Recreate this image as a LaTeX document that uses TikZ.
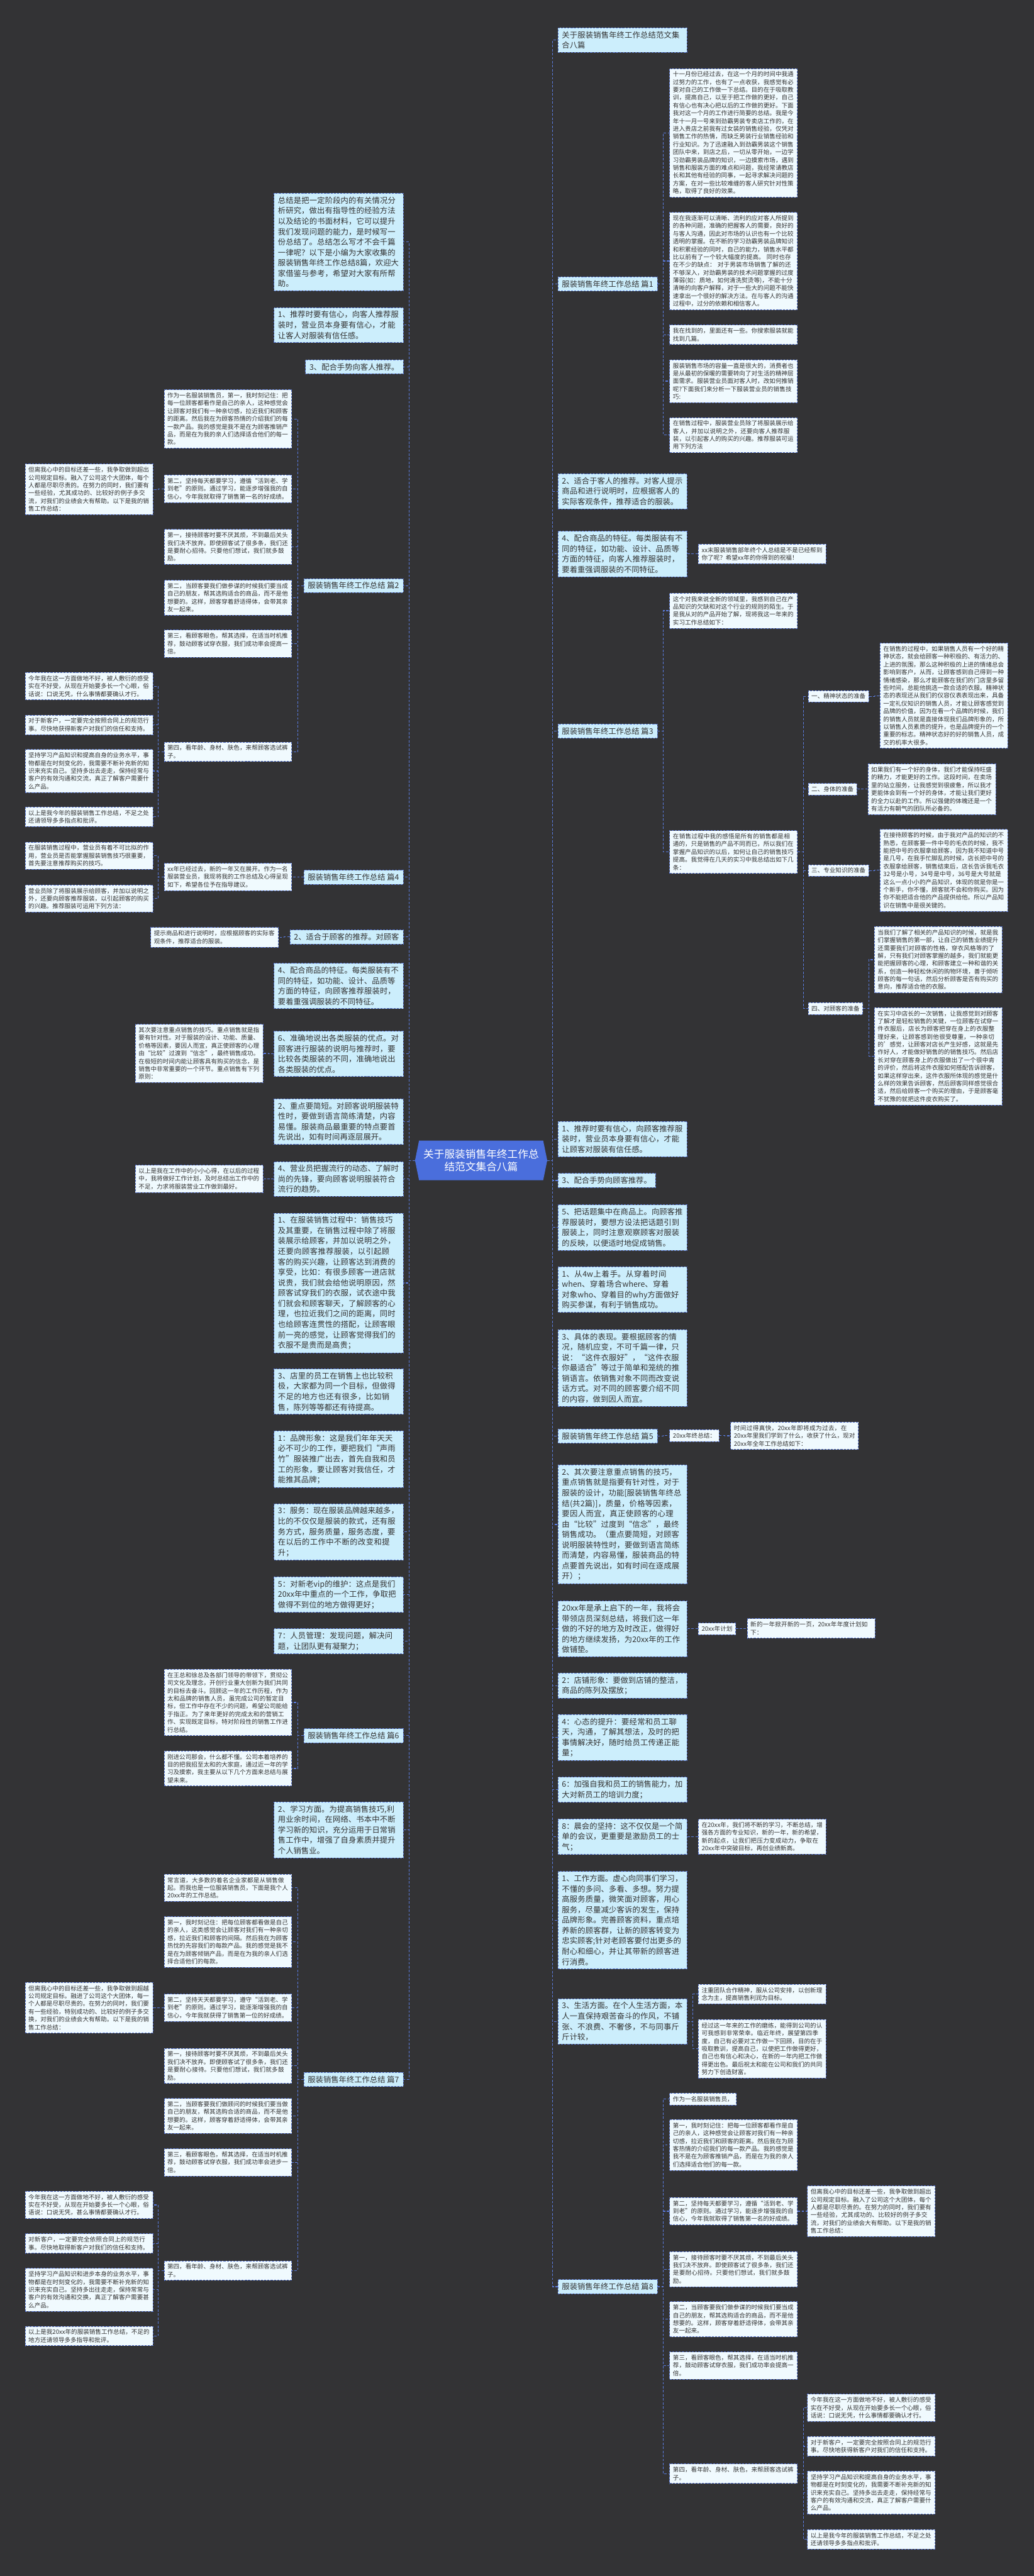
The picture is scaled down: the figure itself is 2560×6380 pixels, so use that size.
\documentclass[tikz,border=0pt]{standalone}
\usepackage{fontspec}
\setmainfont{Noto Sans CJK SC}
\XeTeXlinebreaklocale "zh"
\XeTeXlinebreakskip=0pt plus 1pt
\usetikzlibrary{calc}
\definecolor{bgc}{HTML}{333335}
\definecolor{bigfill}{HTML}{CCEEFC}
\definecolor{leaffill}{HTML}{F0FAFE}
\definecolor{bordc}{HTML}{5573CF}
\definecolor{connc}{HTML}{5A7BDC}
\definecolor{cblue}{HTML}{4A6EDC}
\definecolor{txt}{HTML}{333333}
\newcommand\bigf{\fontsize{19.2pt}{25.8pt}\selectfont}
\newcommand\leaff{\fontsize{14.9pt}{19.3pt}\selectfont}
\newcommand\cenf{\fontsize{26pt}{32pt}\selectfont}
\newcommand\rconn[2]{\draw[conn] (#1.east) -- ++(14,0) |- (#2.west);}
\newcommand\lconn[2]{\draw[conn] (#1.west) -- ++(-14,0) |- (#2.east);}
\pgfdeclarelayer{back}
\pgfdeclarelayer{bg}
\pgfsetlayers{back,bg,main}
\tikzset{
  big/.style={draw=bordc, line width=1.2pt, dash pattern=on 5pt off 3pt, fill=bigfill, text=txt, font=\bigf, inner xsep=10pt, inner ysep=8.5pt, align=left},
  bigw/.style={big, text width=300pt},
  leaf/.style={draw=bordc, line width=1.2pt, dash pattern=on 5pt off 3pt, fill=leaffill, text=txt, font=\leaff, inner xsep=8pt, inner ysep=7.5pt, align=left},
  leafw/.style={leaf, text width=300pt},
  conn/.style={draw=connc, line width=1.8pt, dash pattern=on 6pt off 4pt},
  ctext/.style={text=white, font=\cenf, align=center, minimum width=327pt, minimum height=98pt, inner sep=0pt}
}
\begin{document}
\begin{tikzpicture}[x=1pt,y=1pt]
\useasboundingbox (0,0) rectangle (2560,-6380);
\begin{pgfonlayer}{back}
\fill[bgc] (0,0) rectangle (2560,-6380);
\end{pgfonlayer}

% center
\node[ctext] (C) at (1191.5,-2874) {关于服装销售年终工作总\\结范文集合八篇};
\begin{pgfonlayer}{bg}
\fill[cblue] ([xshift=10pt]C.north west) -- ([xshift=-10pt]C.north east) -- (C.east) -- ([xshift=-10pt]C.south east) -- ([xshift=10pt]C.south west) -- (C.west) -- cycle;
\end{pgfonlayer}

% ================= RIGHT SIDE =================
\node[bigw, anchor=west] (r1) at (1381,-99.5) {关于服装销售年终工作总结范文集合八篇};
\node[big, anchor=west] (r2) at (1381,-703.5) {服装销售年终工作总结 篇1};
\node[leafw, anchor=west] (r2a) at (1658,-329) {十一月份已经过去，在这一个月的时间中我通过努力的工作，也有了一点收获，我感觉有必要对自己的工作做一下总结。目的在于吸取教训，提高自己，以至于把工作做的更好，自己有信心也有决心把以后的工作做的更好。下面我对这一个月的工作进行简要的总结。我是今年十一月一号来到劲霸男装专卖店工作的，在进入贵店之前我有过女装的销售经验，仅凭对销售工作的热情，而缺乏男装行业销售经验和行业知识。为了迅速融入到劲霸男装这个销售团队中来，到店之后，一切从零开始，一边学习劲霸男装品牌的知识，一边摸索市场，遇到销售和服装方面的难点和问题，我经常请教店长和其他有经验的同事，一起寻求解决问题的方案，在对一些比较难缠的客人研究针对性策略，取得了良好的效果。};
\node[leafw, anchor=west] (r2b) at (1658,-646.5) {现在我逐渐可以清晰、流利的应对客人所提到的各种问题，准确的把握客人的需要，良好的与客人沟通，因此对市场的认识也有一个比较透明的掌握。在不断的学习劲霸男装品牌知识和积累经验的同时，自己的能力，销售水平都比以前有了一个较大幅度的提高。 同时也存在不少的缺点： 对于男装市场销售了解的还不够深入，对劲霸男装的技术问题掌握的过度薄弱(如：质地，如何清洗熨烫等)，不能十分清晰的向客户解释，对于一些大的问题不能快速拿出一个很好的解决方法。在与客人的沟通过程中，过分的依赖和相信客人。};
\node[leafw, anchor=west] (r2c) at (1658,-829) {我在找到的，里面还有一些。你搜索服装就能找到几篇。};
\node[leafw, anchor=west] (r2d) at (1658,-944) {服装销售市场的容量一直是很大的，消费者也是从最初的保暖的需要转向了对生活的精神层面需求。服装营业员面对客人时，改如何推销呢?下面我们来分析一下服装营业员的销售技巧:};
\node[leafw, anchor=west] (r2e) at (1658,-1077.5) {在销售过程中，服装营业员除了将服装展示给客人，并加以说明之外，还要向客人推荐服装，以引起客人的购买的兴趣。推荐服装可运用下列方法};
\node[bigw, anchor=west] (r3) at (1381,-1217) {2、适合于客人的推荐。对客人提示商品和进行说明时，应根据客人的实际客观条件，推荐适合的服装。};
\node[bigw, anchor=west] (r4) at (1381,-1372) {4、配合商品的特征。每类服装有不同的特征，如功能、设计、品质等方面的特征，向客人推荐服装时，要着重强调服装的不同特征。};
\node[leafw, anchor=west] (r4a) at (1729,-1372) {xx末服装销售部年终个人总结是不是已经帮到你了呢？希望xx年的你得到的祝福！};
\node[big, anchor=west] (r5) at (1381,-1811) {服装销售年终工作总结 篇3};
\node[leafw, anchor=west] (r5a) at (1658,-1512.5) {这个对我来说全新的领域里，我感到自己在产品知识的欠缺和对这个行业的规则的陌生。于是我从对的产品开始了解，现将我这一年来的实习工作总结如下：};
\node[leafw, anchor=west] (r5b) at (1658,-2110) {在销售过程中我的感悟是所有的销售都是相通的，只是销售的产品不同而已，所以我们在掌握产品知识的以后，如何让自己的销售技巧提高。我觉得在几天的实习中我总结出如下几条：};
\node[leaf, anchor=west] (b1) at (2001,-1724.5) {一、精神状态的准备};
\node[leafw, anchor=west] (b1a) at (2179,-1723) {在销售的过程中，如果销售人员有一个好的精神状态，就会给顾客一种积极的、有活力的、上进的氛围，那么这种积极的上进的情绪总会影响到客户，从而，让顾客感到自己得到一种情绪感染，那么才能顾客在我们的门店里多留些时间，总能他挑选一款合适的衣服。精神状态的表现还从我们的仪容仪表表现出来，具备一定礼仪知识的销售人员，才能让顾客感觉到品牌的价值，因为在看一个品牌的时候，我们的销售人员就是直接体现我们品牌形象的，所以销售人员素质的提升，也是品牌提升的一个重要的标志。精神状态好的好的销售人员，成交的机率大很多。};
\node[leaf, anchor=west] (b2) at (2001,-1954.5) {二、身体的准备};
\node[leafw, anchor=west] (b2a) at (2149,-1954.5) {如果我们有一个好的身体，我们才能保持旺盛的精力，才能更好的工作。这段时间，在卖场里的站立服务，让我感觉到很疲惫，所以我才更能体会到有一个好的身体，才能让我们更好的全力以赴的工作。所以强健的体魄还是一个有活力有朝气的团队所必备的。};
\node[leaf, anchor=west] (b3) at (2001,-2156) {三、专业知识的准备};
\node[leafw, anchor=west] (b3a) at (2179,-2155.5) {在接待顾客的时候，由于我对产品的知识的不熟悉，在顾客要一件中号的毛衣的时候，我不能把中号的衣服拿给顾客，因为我不知道中号是几号，在我手忙脚乱的时候，店长把中号的衣服拿给顾客，销售结束后，店长告诉我毛衣32号是小号，34号是中号，36号是大号就是这么一点小小的产品知识，体现的就是你是一个新手，你不懂，顾客就不会和你购买。因为你不能把适合他的产品提供给他。所以产品知识在销售中是很关键的。};
\node[leaf, anchor=west] (b4) at (2001,-2498) {四、对顾客的准备};
\node[leafw, anchor=west] (b4a) at (2165,-2377) {当我们了解了相关的产品知识的时候，就是我们掌握销售的第一部，让自己的销售业绩提升还需要我们对顾客的性格，穿衣风格等的了解，只有我们对顾客掌握的越多，我们就能更能把握顾客的心理，和顾客建立一种和谐的关系，创造一种轻松休闲的购物环境，善于倾听顾客的每一句话，然后分析顾客是否有购买的意向，推荐适合他的衣服。};
\node[leafw, anchor=west] (b4b) at (2165,-2616) {在实习中店长的一次销售，让我感觉到对顾客了解才是轻松销售的关键，一位顾客在试穿一件衣服后，店长为顾客把穿在身上的衣服整理好来，让顾客感到他很受尊重，一种亲切的'感觉，让顾客对店长产生好感，这就是先作好人，才能做好销售的的销售技巧。然后店长对穿在顾客身上的衣服做出了一个很中肯的评价，然后将这件衣服如何搭配告诉顾客，如果这样穿出来，这件衣服所体现的感觉是什么样的效果告诉顾客，然后顾客同样感觉很合适，然后给顾客一个购买的理由，于是顾客毫不犹豫的就把这件皮衣购买了。};
\node[bigw, anchor=west] (r6) at (1381,-2821) {1、推荐时要有信心，向顾客推荐服装时，营业员本身要有信心，才能让顾客对服装有信任感。};
\node[big, anchor=west] (r7) at (1381,-2923.5) {3、配合手势向顾客推荐。};
\node[bigw, anchor=west] (r8) at (1381,-3040) {5、把话题集中在商品上。向顾客推荐服装时，要想方设法把话题引到服装上，同时注意观察顾客对服装的反映，以便适时地促成销售。};
\node[bigw, anchor=west] (r9) at (1381,-3194) {1、从4w上着手。从穿着时间when、穿着场合where、穿着对象who、穿着目的why方面做好购买参谋，有利于销售成功。};
\node[bigw, anchor=west] (r10) at (1381,-3388) {3、具体的表现。要根据顾客的情况，随机应变，不可千篇一律，只说：“这件衣服好”，“这件衣服你最适合”等过于简单和笼统的推销语言。依销售对象不同而改变说话方式。对不同的顾客要介绍不同的内容，做到因人而宜。};
\node[big, anchor=west] (r11) at (1381,-3557) {服装销售年终工作总结 篇5};
\node[leaf, anchor=west] (r11a) at (1658,-3555.5) {20xx年终总结：};
\node[leafw, anchor=west] (r11b) at (1809,-3556) {时间过得真快，20xx年即将成为过去，在20xx年里我们学到了什么，收获了什么，现对20xx年全年工作总结如下：};
\node[bigw, anchor=west] (r12) at (1381,-3775.5) {2、其次要注意重点销售的技巧，重点销售就是指要有针对性，对于服装的设计，功能[服装销售年终总结(共2篇)]，质量，价格等因素，要因人而宜，真正使顾客的心理由“比较”过度到“信念”，最终销售成功。（重点要简短，对顾客说明服装特性时，要做到语言简练而清楚，内容易懂，服装商品的特点要首先说出，如有时间在逐成展开）；};
\node[bigw, anchor=west] (r13) at (1381,-4034) {20xx年是承上启下的一年，我将会带领店员深刻总结，将我们这一年做的不好的地方及时改正，做得好的地方继续发扬，为20xx年的工作做铺垫。};
\node[leaf, anchor=west] (r13a) at (1729,-4034) {20xx年计划};
\node[leafw, anchor=west] (r13b) at (1850,-4033) {新的一年掀开新的一页，20xx年年度计划如下：};
\node[bigw, anchor=west] (r14) at (1381,-4174.5) {2：店铺形象：要做到店铺的整洁，商品的陈列及摆放；};
\node[bigw, anchor=west] (r15) at (1381,-4303.5) {4：心态的提升：要经常和员工聊天，沟通，了解其想法，及时的把事情解决好，随时给员工传递正能量；};
\node[bigw, anchor=west] (r16) at (1381,-4432.5) {6：加强自我和员工的销售能力，加大对新员工的培训力度；};
\node[bigw, anchor=west] (r17) at (1381,-4549) {8：晨会的坚持：这不仅仅是一个简单的会议，更重要是激励员工的士气；};
\node[leafw, anchor=west] (r17a) at (1729,-4549) {在20xx年，我们将不断的学习，不断总结，增强各方面的专业知识，新的一年，新的希望，新的起点，让我们把压力变成动力，争取在20xx年中突破目标，再创业绩新高。};
\node[bigw, anchor=west] (r18) at (1381,-4755.5) {1、工作方面。虚心向同事们学习，不懂的多问、多看、多想。努力提高服务质量，微笑面对顾客，用心服务，尽量减少客诉的发生，保持品牌形象。完善顾客资料，重点培养新的顾客群，让新的顾客转变为忠实顾客;针对老顾客要付出更多的耐心和细心，并让其带新的顾客进行消费。};
\node[bigw, anchor=west] (r19) at (1381,-5006.5) {3、生活方面。在个人生活方面，本人一直保持艰苦奋斗的作风，不铺张、不浪费、不奢侈，不与同事斤斤计较，};
\node[leafw, anchor=west] (r19a) at (1729,-4939) {注重团队合作精神，服从公司安排，以创新理念为主，提高销售利润为目标。};
\node[leafw, anchor=west] (r19b) at (1729,-5074.5) {经过这一年来的工作的磨练，能得到公司的认可我感到非常荣幸。临近年终，展望第四季度，自己有必要对工作做一下回顾，目的在于吸取教训，提高自己，以使把工作做得更好，自己也有信心和决心，在新的一年内把工作做得更出色。最后祝太和能在公司和我们的共同努力下创造财富。};
\node[big, anchor=west] (r20) at (1381,-5663.5) {服装销售年终工作总结 篇8};
\node[leaf, anchor=west] (p1) at (1658,-5199) {作为一名服装销售员，};
\node[leafw, anchor=west] (p2) at (1658,-5312.5) {第一，我时刻记住：把每一位顾客都看作是自己的亲人，这种感觉会让顾客对我们有一种亲切感，拉近我们和顾客的距离。然后我在为顾客热情的介绍我们的每一款产品。我的感觉是我不是在为顾客推销产品，而是在为我的亲人们选择适合他们的每一款。};
\node[leafw, anchor=west] (p3) at (1658,-5476.5) {第二，坚持每天都要学习，遵循“活到老、学到老”的原则。通过学习，能逐步增强我的自信心，今年我就取得了销售第一名的好成绩。};
\node[leafw, anchor=west] (p3a) at (1999,-5476.5) {但离我心中的目标还差一些，我争取做到超出公司规定目标。融入了公司这个大团体，每个人都是尽职尽责的。在努力的同时，我们要有一些经验，尤其成功的、比较好的例子多交流，对我们的业绩会大有帮助。以下是我的销售工作总结：};
\node[leafw, anchor=west] (p4) at (1658,-5620) {第一，接待顾客时要不厌其烦，不到最后关头我们决不放弃。即使顾客试了很多条，我们还是要耐心招待。只要他们想试，我们就多鼓励。};
\node[leafw, anchor=west] (p5) at (1658,-5744) {第二，当顾客要我们做参谋的时候我们要当成自己的朋友，帮其选购适合的商品，而不是他想要的。这样，顾客穿着舒适得体，会带其亲友一起来。};
\node[leafw, anchor=west] (p6) at (1658,-5858.5) {第三，看顾客眼色，帮其选择，在适当时机推荐，鼓动顾客试穿衣服，我们成功率会提高一倍。};
\node[leafw, anchor=west] (p7) at (1658,-6126.5) {第四，看年龄、身材、肤色，来帮顾客选试裤子。};
\node[leafw, anchor=west] (p7a) at (1999,-5963.5) {今年我在这一方面做地不好，被人敷衍的感受实在不好受，从现在开始要多长一个心眼，俗话说：口说无凭，什么事情都要确认才行。};
\node[leafw, anchor=west] (p7b) at (1999,-6059) {对于新客户，一定要完全按照合同上的规范行事。尽快地获得新客户对我们的信任和支持。};
\node[leafw, anchor=west] (p7c) at (1999,-6173.5) {坚持学习产品知识和提高自身的业务水平，事物都是在时刻变化的，我需要不断补充新的知识来充实自己。坚持多出去走走，保持经常与客户的有效沟通和交流，真正了解客户需要什么产品。};
\node[leafw, anchor=west] (p7d) at (1999,-6289) {以上是我今年的服装销售工作总结，不足之处还请领导多多指点和批评。};

% ================= LEFT SIDE =================
\node[bigw, anchor=east] (l1) at (999,-599.5) {总结是把一定阶段内的有关情况分析研究，做出有指导性的经验方法以及结论的书面材料，它可以提升我们发现问题的能力，是时候写一份总结了。总结怎么写才不会千篇一律呢？以下是小编为大家收集的服装销售年终工作总结8篇，欢迎大家借鉴与参考，希望对大家有所帮助。};
\node[bigw, anchor=east] (l2) at (999,-805) {1、推荐时要有信心，向客人推荐服装时，营业员本身要有信心，才能让客人对服装有信任感。};
\node[big, anchor=east] (l3) at (999,-908.5) {3、配合手势向客人推荐。};
\node[big, anchor=east] (l4) at (999,-1450.5) {服装销售年终工作总结 篇2};
\node[leafw, anchor=east] (l4a) at (723,-1037.5) {作为一名服装销售员，第一，我时刻记住：把每一位顾客都看作是自己的亲人，这种感觉会让顾客对我们有一种亲切感，拉近我们和顾客的距离。然后我在为顾客热情的介绍我们的每一款产品。我的感觉是我不是在为顾客推销产品，而是在为我的亲人们选择适合他们的每一款。};
\node[leafw, anchor=east] (l4b) at (723,-1210.5) {第二，坚持每天都要学习，遵循“活到老、学到老”的原则。通过学习，能逐步增强我的自信心，今年我就取得了销售第一名的好成绩。};
\node[leafw, anchor=east] (l4b1) at (379,-1212) {但离我心中的目标还差一些，我争取做到超出公司规定目标。融入了公司这个大团体，每个人都是尽职尽责的。在努力的同时，我们要有一些经验，尤其成功的、比较好的例子多交流，对我们的业绩会大有帮助。以下是我的销售工作总结：};
\node[leafw, anchor=east] (l4c) at (723,-1354.5) {第一，接待顾客时要不厌其烦，不到最后关头我们决不放弃。即使顾客试了很多条，我们还是要耐心招待。只要他们想试，我们就多鼓励。};
\node[leafw, anchor=east] (l4d) at (723,-1480.5) {第二，当顾客要我们做参谋的时候我们要当成自己的朋友，帮其选购适合的商品，而不是他想要的。这样，顾客穿着舒适得体，会带其亲友一起来。};
\node[leafw, anchor=east] (l4e) at (723,-1594) {第三，看顾客眼色，帮其选择，在适当时机推荐，鼓动顾客试穿衣服，我们成功率会提高一倍。};
\node[leafw, anchor=east] (l4f) at (723,-1862) {第四，看年龄、身材、肤色，来帮顾客选试裤子。};
\node[leafw, anchor=east] (l4f1) at (379,-1699.5) {今年我在这一方面做地不好，被人敷衍的感受实在不好受，从现在开始要多长一个心眼，俗话说：口说无凭，什么事情都要确认才行。};
\node[leafw, anchor=east] (l4f2) at (379,-1795) {对于新客户，一定要完全按照合同上的规范行事。尽快地获得新客户对我们的信任和支持。};
\node[leafw, anchor=east] (l4f3) at (379,-1909.5) {坚持学习产品知识和提高自身的业务水平，事物都是在时刻变化的，我需要不断补充新的知识来充实自己。坚持多出去走走，保持经常与客户的有效沟通和交流，真正了解客户需要什么产品。};
\node[leafw, anchor=east] (l4f4) at (379,-2023) {以上是我今年的服装销售工作总结，不足之处还请领导多多指点和批评。};
\node[big, anchor=east] (l5) at (999,-2172.5) {服装销售年终工作总结 篇4};
\node[leafw, anchor=east] (l5a) at (723,-2172) {xx年已经过去，新的一年又在展开。作为一名服装营业员，我现将我的工作总结及心得呈现如下，希望各位予在指导建议。};
\node[leafw, anchor=east] (l5a1) at (379,-2119.5) {在服装销售过程中，营业员有着不可比拟的作用，营业员是否能掌握服装销售技巧很重要，首先要注意推荐购买的技巧。};
\node[leafw, anchor=east] (l5a2) at (379,-2225.5) {营业员除了将服装展示给顾客，并加以说明之外，还要向顾客推荐服装，以引起顾客的购买的兴趣。推荐服装可运用下列方法：};
\node[big, anchor=east] (l6) at (999,-2320.5) {2、适合于顾客的推荐。对顾客};
\node[leafw, anchor=east] (l6a) at (690,-2321.5) {提示商品和进行说明时，应根据顾客的实际客观条件，推荐适合的服装。};
\node[bigw, anchor=east] (l7) at (999,-2442) {4、配合商品的特征。每类服装有不同的特征，如功能、设计、品质等方面的特征，向顾客推荐服装时，要着重强调服装的不同特征。};
\node[bigw, anchor=east] (l8) at (999,-2610) {6、准确地说出各类服装的优点。对顾客进行服装的说明与推荐时，要比较各类服装的不同，准确地说出各类服装的优点。};
\node[leafw, anchor=east] (l8a) at (652,-2609) {其次要注意重点销售的技巧。重点销售就是指要有针对性。对于服装的设计、功能、质量、价格等因素，要因人而宜，真正使顾客的心理由“比较”过渡到“信念”，最终销售成功。在极短的时间内能让顾客具有购买的信念，是销售中非常重要的一个环节。重点销售有下列原则：};
\node[bigw, anchor=east] (l9) at (999,-2778) {2、重点要简短。对顾客说明服装特性时，要做到语言简练清楚，内容易懂。服装商品最重要的特点要首先说出，如有时间再逐层展开。};
\node[bigw, anchor=east] (l10) at (999,-2920) {4、营业员把握流行的动态、了解时尚的先锋，要向顾客说明服装符合流行的趋势。};
\node[leafw, anchor=east] (l10a) at (652,-2919.5) {以上是我在工作中的小小心得，在以后的过程中，我将做好工作计划，及时总结出工作中的不足，力求将服装营业工作做到最好。};
\node[bigw, anchor=east] (l11) at (999,-3177.5) {1、在服装销售过程中：销售技巧及其重要，在销售过程中除了将服装展示给顾客，并加以说明之外，还要向顾客推荐服装，以引起顾客的购买兴趣，让顾客达到消费的享受，比如：有很多顾客一进店就说贵，我们就会给他说明原因，然顾客试穿我们的衣服，试衣途中我们就会和顾客聊天，了解顾客的心理，也拉近我们之间的距离，同时也给顾客连贯性的搭配，让顾客眼前一亮的感觉，让顾客觉得我们的衣服不是贵而是高贵；};
\node[bigw, anchor=east] (l12) at (999,-3446.5) {3、店里的员工在销售上也比较积极，大家都为同一个目标，但做得不足的地方也还有很多，比如销售，陈列等等都还有待提高。};
\node[bigw, anchor=east] (l13) at (999,-3614) {1：品牌形象：这是我们年年天天必不可少的工作，要把我们“声雨竹”服装推广出去，首先自我和员工的形象，要让顾客对我信任，才能推其品牌；};
\node[bigw, anchor=east] (l14) at (999,-3794) {3：服务：现在服装品牌越来越多，比的不仅仅是服装的款式，还有服务方式，服务质量，服务态度，要在以后的工作中不断的改变和提升；};
\node[bigw, anchor=east] (l15) at (999,-3949.5) {5：对新老vip的维护：这点是我们20xx年中重点的一个工作，争取把做得不到位的地方做得更好；};
\node[bigw, anchor=east] (l16) at (999,-4065) {7：人员管理：发现问题，解决问题，让团队更有凝聚力；};
\node[big, anchor=east] (l17) at (999,-4298.5) {服装销售年终工作总结 篇6};
\node[leafw, anchor=east] (l17a) at (723,-4216.5) {在王总和徐总及各部门领导的带领下，贯彻公司文化及理念，开创行业重大创新为我们共同的目标去奋斗。回顾这一年的工作历程，作为太和品牌的销售人员，虽完成公司的暂定目标，但工作中存在不少的问题，希望公司能给于指正。为了来年更好的完成太和的营销工作、实现既定目标，特对阶段性的销售工作进行总结。};
\node[leafw, anchor=east] (l17b) at (723,-4380) {刚进公司那会，什么都不懂。公司本着培养的目的把我招至太和的大家庭，通过近一年的学习及摸索，我主要从以下几个方面来总结与展望未来。};
\node[bigw, anchor=east] (l18) at (999,-4532) {2、学习方面。为提高销售技巧,利用业余时间，在网络、书本中不断学习新的知识，充分运用于日常销售工作中，增强了自身素质并提升个人销售业。};
\node[big, anchor=east] (l19) at (999,-5150) {服装销售年终工作总结 篇7};
\node[leafw, anchor=east] (q1) at (723,-4675.5) {常言道，大多数的着名企业家都是从销售做起。而我也是一位服装销售员，下面是我个人20xx年的工作总结。};
\node[leafw, anchor=east] (q2) at (723,-4809.5) {第一，我时刻记住：把每位顾客都看做是自己的亲人，这类感觉会让顾客对我们有一种亲切感，拉近我们和顾客的间隔。然后我在为顾客热忱的先容我们的每款产品。我的感觉是我不是在为顾客倾销产品，而是在为我的亲人们选择合适他们的每款。};
\node[leafw, anchor=east] (q3) at (723,-4972.5) {第二，坚持天天都要学习，遵守“活到老、学到老”的原则。通过学习，能逐渐增强我的自信心，今年我就获得了销售第一位的好成绩。};
\node[leafw, anchor=east] (q3a) at (379,-4972.5) {但离我心中的目标还差一些，我争取做到超越公司规定目标。融进了公司这个大团体，每一个人都是尽职尽责的。在努力的同时，我们要有一些经验，特别成功的、比较好的例子多交换，对我们的业绩会大有帮助。以下是我的销售工作总结：};
\node[leafw, anchor=east] (q4) at (723,-5116.5) {第一，接待顾客时要不厌其烦，不到最后关头我们决不放弃。即便顾客试了很多条，我们还是要耐心接待。只要他们想试，我们就多鼓励。};
\node[leafw, anchor=east] (q5) at (723,-5240.5) {第二，当顾客要我们做顾问的时候我们要当做自己的朋友，帮其选购合适的商品，而不是他想要的。这样，顾客穿着舒适得体，会带其亲友一起来。};
\node[leafw, anchor=east] (q6) at (723,-5355.5) {第三，看顾客眼色，帮其选择，在适当时机推荐，鼓动顾客试穿衣服，我们成功率会进步一倍。};
\node[leafw, anchor=east] (q7) at (723,-5623.5) {第四，看年龄、身材、肤色，来帮顾客选试裤子。};
\node[leafw, anchor=east] (q7a) at (379,-5461) {今年我在这一方面做地不好，被人敷衍的感受实在不好受，从现在开始要多长一个心眼，俗语说：口说无凭，甚么事情都要确认才行。};
\node[leafw, anchor=east] (q7b) at (379,-5556.5) {对新客户，一定要完全依照合同上的规范行事。尽快地取得新客户对我们的信任和支持。};
\node[leafw, anchor=east] (q7c) at (379,-5671) {坚持学习产品知识和进步本身的业务水平，事物都是在时刻变化的，我需要不断补充新的知识来充实自己。坚持多出往走走，保持常常与客户的有效沟通和交换，真正了解客户需要甚么产品。};
\node[leafw, anchor=east] (q7d) at (379,-5785.5) {以上是我20xx年的服装销售工作总结，不足的地方还请领导多多指导和批评。};

% ================= CONNECTORS =================
\begin{pgfonlayer}{bg}
\foreach \n in {r1,r2,r3,r4,r5,r6,r7,r8,r9,r10,r11,r12,r13,r14,r15,r16,r17,r18,r19,r20}{\draw[conn] (C.east) -- ++(13,0) |- (\n.west);}
\foreach \n in {l1,l2,l3,l4,l5,l6,l7,l8,l9,l10,l11,l12,l13,l14,l15,l16,l17,l18,l19}{\draw[conn] (C.west) -- ++(-15,0) |- (\n.east);}
\foreach \n in {r2a,r2b,r2c,r2d,r2e}{\rconn{r2}{\n}}
\rconn{r4}{r4a}
\rconn{r5}{r5a}\rconn{r5}{r5b}
\foreach \n in {b1,b2,b3,b4}{\rconn{r5b}{\n}}
\rconn{b1}{b1a}\rconn{b2}{b2a}\rconn{b3}{b3a}\rconn{b4}{b4a}\rconn{b4}{b4b}
\rconn{r11}{r11a}\rconn{r11a}{r11b}
\rconn{r13}{r13a}\rconn{r13a}{r13b}
\rconn{r17}{r17a}
\rconn{r19}{r19a}\rconn{r19}{r19b}
\foreach \n in {p1,p2,p3,p4,p5,p6,p7}{\rconn{r20}{\n}}
\rconn{p3}{p3a}
\foreach \n in {p7a,p7b,p7c,p7d}{\rconn{p7}{\n}}
\foreach \n in {l4a,l4b,l4c,l4d,l4e,l4f}{\lconn{l4}{\n}}
\lconn{l4b}{l4b1}
\foreach \n in {l4f1,l4f2,l4f3,l4f4}{\lconn{l4f}{\n}}
\lconn{l5}{l5a}\lconn{l5a}{l5a1}\lconn{l5a}{l5a2}
\lconn{l6}{l6a}\lconn{l8}{l8a}\lconn{l10}{l10a}
\lconn{l17}{l17a}\lconn{l17}{l17b}
\foreach \n in {q1,q2,q3,q4,q5,q6,q7}{\lconn{l19}{\n}}
\lconn{q3}{q3a}
\foreach \n in {q7a,q7b,q7c,q7d}{\lconn{q7}{\n}}
\end{pgfonlayer}
\end{tikzpicture}
\end{document}
